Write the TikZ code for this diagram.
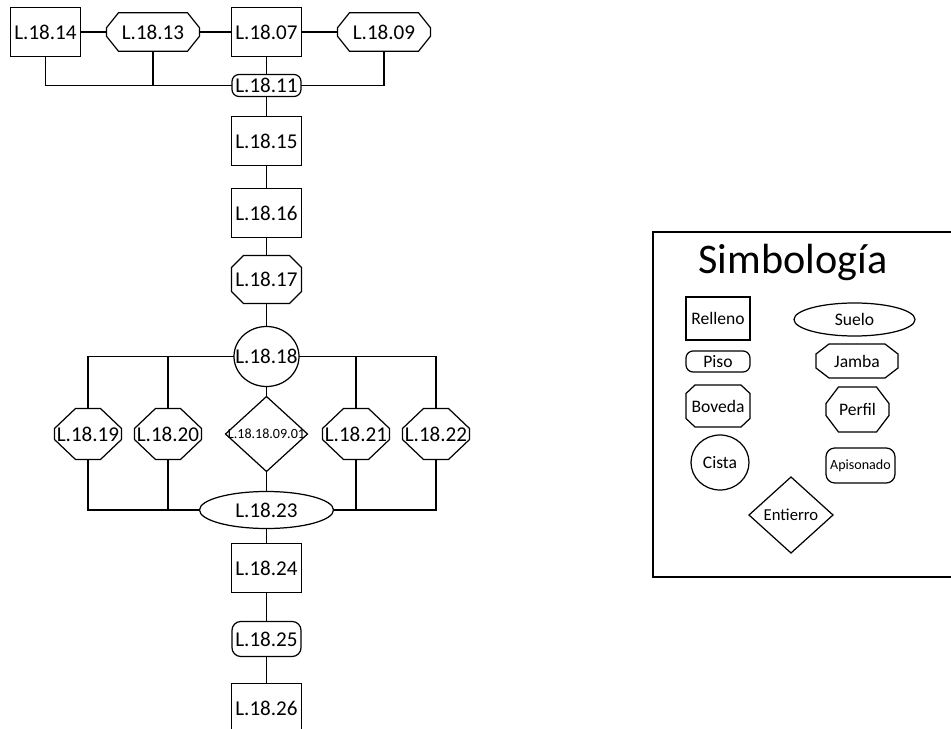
\documentclass[tikz,border=0pt]{standalone}
\usepackage{fontspec}
\setmainfont{Carlito}
\usetikzlibrary{shapes.geometric, positioning}

% label that does not widen its shape
\newcommand{\lbl}[1]{\makebox[0pt]{#1}}

\begin{document}
\begin{tikzpicture}[
    box/.style={draw, line width=0.7pt, inner sep=1pt, outer sep=0pt, font=\fontsize{12}{14}\selectfont},
    relleno/.style={box, rectangle, minimum width=1.4cm, minimum height=0.98cm},
    piso/.style={box, rectangle, rounded corners=4pt, minimum width=1.38cm, minimum height=0.44cm},
    apisonado/.style={box, rectangle, rounded corners=5pt, minimum width=1.38cm, minimum height=0.7cm},
    boveda/.style={box, draw=none, rectangle, minimum width=1.4cm, minimum height=0.96cm},
    jamba/.style={box, draw=none, rectangle, minimum width=1.86cm, minimum height=0.77cm},
    perfil/.style={box, draw=none, rectangle, minimum width=1.34cm, minimum height=1.02cm},
    cista/.style={box, ellipse, minimum width=1.3cm, minimum height=1.2cm},
    suelo/.style={box, ellipse, minimum width=2.68cm, minimum height=0.74cm},
    entierro/.style={box, diamond, inner sep=0pt, minimum width=1.64cm, minimum height=1.5cm},
    leyenda/.style={font=\fontsize{10}{12}\selectfont},
    link/.style={line width=0.6pt},
]
\useasboundingbox (-5.33,0.64) rectangle (13.69,-13.94);

% top row
\node[relleno] (l1807) {L.18.07};
\node[jamba, left=0.64cm of l1807] (l1813) {L.18.13};
\node[relleno, left=0.52cm of l1813] (l1814) {L.18.14};
\node[jamba, right=0.72cm of l1807] (l1809) {L.18.09};

% main column
\node[piso, below=0.36cm of l1807] (l1811) {L.18.11};
\node[relleno, below=0.4cm of l1811] (l1815) {L.18.15};
\node[relleno, below=0.46cm of l1815] (l1816) {L.18.16};
\node[boveda, below=0.36cm of l1816] (l1817) {L.18.17};
\node[cista, below=0.46cm of l1817] (l1818) {\lbl{L.18.18}};
\node[entierro, below=0.2cm of l1818] (l18180901) {\lbl{\fontsize{8}{9}\selectfont L.18.18.09.01}};
\node[perfil, left=0.48cm of l18180901] (l1820) {\lbl{L.18.20}};
\node[perfil, left=0.26cm of l1820] (l1819) {\lbl{L.18.19}};
\node[perfil, right=0.3cm of l18180901] (l1821) {\lbl{L.18.21}};
\node[perfil, right=0.26cm of l1821] (l1822) {\lbl{L.18.22}};
\node[suelo, below=0.4cm of l18180901] (l1823) {\lbl{L.18.23}};
\node[relleno, below=0.3cm of l1823] (l1824) {L.18.24};
\node[apisonado, below=0.58cm of l1824] (l1825) {L.18.25};
\node[relleno, below=0.54cm of l1825] (l1826) {L.18.26};

% legend
\draw[line width=0.7pt] (7.73,-4.0) rectangle (14.2,-10.9);
\node[font=\fontsize{24}{28}\selectfont] (titulo) at (10.53,-4.6) {Simbología};
\node[relleno, leyenda, minimum width=1.28cm, minimum height=0.86cm] (sRelleno) at (9.03,-5.73) {Relleno};
\node[suelo, leyenda, minimum width=2.42cm, minimum height=0.66cm] (sSuelo) at (11.76,-5.75) {\lbl{Suelo}};
\node[piso, leyenda, minimum width=1.28cm, minimum height=0.42cm] (sPiso) at (9.03,-6.59) {Piso};
\node[jamba, leyenda, minimum width=1.64cm, minimum height=0.68cm] (sJamba) at (11.81,-6.58) {Jamba};
\node[boveda, leyenda, minimum width=1.28cm, minimum height=0.84cm] (sBoveda) at (9.03,-7.48) {Boveda};
\node[perfil, leyenda, minimum width=1.26cm, minimum height=0.9cm] (sPerfil) at (11.82,-7.55) {Perfil};
\node[cista, leyenda, minimum width=1.16cm, minimum height=1.1cm] (sCista) at (9.07,-8.61) {\lbl{Cista}};
\node[apisonado, font=\fontsize{8}{9}\selectfont] (sApisonado) at (11.88,-8.67) {Apisonado};
\node[entierro, font=\fontsize{9.5}{11}\selectfont, minimum width=1.68cm, minimum height=1.52cm] (sEntierro) at (10.49,-9.66) {\lbl{Entierro}};

% chamfered outlines (node/chamfer x/chamfer y)
\foreach \n/\a/\b in {l1813/0.24/0.3, l1809/0.24/0.3, l1817/0.24/0.24,
    l1819/0.42/0.4, l1820/0.42/0.4, l1821/0.42/0.4, l1822/0.42/0.4,
    sJamba/0.26/0.2, sBoveda/0.18/0.17, sPerfil/0.25/0.33}
  \draw[line width=0.7pt] ([xshift=\a cm]\n.north west) -- ([xshift=-\a cm]\n.north east)
    -- ([yshift=-\b cm]\n.north east) -- ([yshift=\b cm]\n.south east)
    -- ([xshift=-\a cm]\n.south east) -- ([xshift=\a cm]\n.south west)
    -- ([yshift=\b cm]\n.south west) -- ([yshift=-\b cm]\n.north west) -- cycle;

% connectors
\draw[link] (l1814) -- (l1813);
\draw[link] (l1813) -- (l1807);
\draw[link] (l1807) -- (l1809);
\draw[link] (l1807) -- (l1811);
\draw[link] (l1814) |- (l1811);
\draw[link] (l1813) |- (l1811);
\draw[link] (l1809) |- (l1811);
\draw[link] (l1811) -- (l1815);
\draw[link] (l1815) -- (l1816);
\draw[link] (l1816) -- (l1817);
\draw[link] (l1817) -- (l1818);
\draw[link] (l1818) -- (l18180901);
\draw[link] (l18180901) -- (l1823);
\foreach \n in {l1819, l1820, l1821, l1822} {
    \draw[link] (\n) |- (l1818);
    \draw[link] (\n) |- (l1823);
}
\draw[link] (l1823) -- (l1824);
\draw[link] (l1824) -- (l1825);
\draw[link] (l1825) -- (l1826);

\end{tikzpicture}
\end{document}
